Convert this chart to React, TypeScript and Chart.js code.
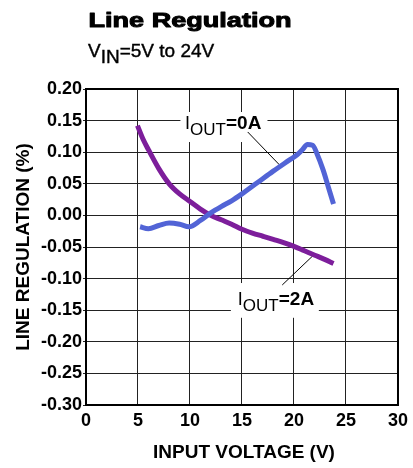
import React, { useEffect, useRef } from 'react';
import { Chart, registerables } from 'chart.js';

Chart.register(...registerables);

// ---- data ----
const iout0Voltage = [5.2, 6.0, 7.0, 8.0, 9.0, 9.9, 11.0, 12.0, 13.0, 14.0, 15.0, 16.5, 18.0, 19.5, 20.3, 20.8, 21.3, 21.8, 22.2, 22.8, 23.3, 23.8];
const iout0Regulation = [-0.018, -0.021, -0.016, -0.012, -0.014, -0.018, -0.008, 0.004, 0.014, 0.023, 0.034, 0.052, 0.070, 0.087, 0.096, 0.104, 0.112, 0.111, 0.098, 0.072, 0.045, 0.018];

const iout2Voltage = [4.95, 5.5, 6.0, 7.0, 8.0, 9.0, 10.0, 11.0, 12.0, 13.0, 14.0, 15.0, 16.0, 17.0, 18.0, 19.0, 20.0, 21.0, 22.0, 23.0, 23.8];
const iout2Regulation = [0.142, 0.120, 0.104, 0.074, 0.050, 0.034, 0.022, 0.010, 0.0, -0.007, -0.014, -0.022, -0.028, -0.033, -0.038, -0.043, -0.049, -0.056, -0.063, -0.070, -0.076];

const xTickMin = 0;
const xTickMax = 30;
const xTickStep = 5;
const yTickMin = -0.3;
const yTickMax = 0.2;
const yTickStep = 0.05;

const titleText = 'Line Regulation';
const subtitleParts = ['V', 'IN', '=5V to 24V'];
const xAxisTitle = 'INPUT VOLTAGE (V)';
const yAxisTitle = 'LINE REGULATION (%)';

// annotation labels, in data units
const seriesLabels = [
  { main: 'I', sub: 'OUT', tail: '=0A', at: [9.53, 0.1367], box: [9.08, 0.1636, 17.45, 0.1161], leader: [[15.55, 0.132], [18.6, 0.08]] },
  { main: 'I', sub: 'OUT', tail: '=2A', at: [14.6, -0.1418], box: [13.93, -0.107, 22.39, -0.162], leader: [[18.87, -0.1101], [21.89, -0.0627]] },
];

const FONT = '"Liberation Sans", Arial, Helvetica, sans-serif';
const BLUE = '#5264D6';
const PURPLE = '#7D1E9B';

const annotationPlugin = {
  id: 'annotations',
  beforeDatasetsDraw(chart: any) {
    const { ctx, chartArea, scales } = chart;
    const xs = scales.x;
    const ys = scales.y;
    ctx.save();
    for (const lab of seriesLabels) {
      const x1 = xs.getPixelForValue(lab.box[0]);
      const y1 = ys.getPixelForValue(lab.box[1]);
      const x2 = xs.getPixelForValue(lab.box[2]);
      const y2 = ys.getPixelForValue(lab.box[3]);
      ctx.fillStyle = '#fff';
      ctx.fillRect(x1, y1, x2 - x1, y2 - y1);
    }
    // frame
    ctx.strokeStyle = '#000';
    ctx.lineWidth = 2;
    ctx.strokeRect(chartArea.left, chartArea.top, chartArea.right - chartArea.left, chartArea.bottom - chartArea.top);

    for (const lab of seriesLabels) {
      // leader line
      ctx.strokeStyle = '#000';
      ctx.lineWidth = 1;
      ctx.beginPath();
      ctx.moveTo(xs.getPixelForValue(lab.leader[0][0]), ys.getPixelForValue(lab.leader[0][1]));
      ctx.lineTo(xs.getPixelForValue(lab.leader[1][0]), ys.getPixelForValue(lab.leader[1][1]));
      ctx.stroke();
      // text
      let x = xs.getPixelForValue(lab.at[0]);
      const y = ys.getPixelForValue(lab.at[1]);
      ctx.fillStyle = '#000';
      ctx.textBaseline = 'alphabetic';
      ctx.textAlign = 'left';
      ctx.font = `18px ${FONT}`;
      ctx.fillText(lab.main, x, y);
      x += ctx.measureText(lab.main).width;
      ctx.font = `17px ${FONT}`;
      ctx.fillText(lab.sub, x, y + 6);
      x += ctx.measureText(lab.sub).width;
      ctx.font = `bold 19px ${FONT}`;
      ctx.fillText(lab.tail, x, y);
    }
    ctx.restore();
  },
  afterDraw(chart: any) {
    const { ctx, chartArea } = chart;
    ctx.save();
    ctx.fillStyle = '#000';
    ctx.strokeStyle = '#000';
    ctx.textBaseline = 'alphabetic';
    // title (wide heavy face)
    ctx.textAlign = 'left';
    ctx.font = `bold 21px ${FONT}`;
    const tw = ctx.measureText(titleText).width;
    ctx.save();
    ctx.translate(88.5, 27.3);
    ctx.scale(203 / tw, 1);
    ctx.lineWidth = 1.0;
    ctx.lineJoin = 'round';
    ctx.fillText(titleText, 0, 0);
    ctx.strokeText(titleText, 0, 0);
    ctx.restore();
    // subtitle
    let sx = 88;
    ctx.font = `19px ${FONT}`;
    ctx.lineWidth = 0.4;
    ctx.fillText(subtitleParts[0], sx, 57.3);
    ctx.strokeText(subtitleParts[0], sx, 57.3);
    sx += ctx.measureText(subtitleParts[0]).width;
    ctx.fillText(subtitleParts[1], sx, 63.3);
    ctx.strokeText(subtitleParts[1], sx, 63.3);
    sx += ctx.measureText(subtitleParts[1]).width;
    ctx.fillText(subtitleParts[2], sx, 57.3);
    ctx.strokeText(subtitleParts[2], sx, 57.3);
    // x axis title
    ctx.font = `bold 19px ${FONT}`;
    ctx.textAlign = 'center';
    ctx.fillText(xAxisTitle, (chartArea.left + chartArea.right) / 2 + 2, 458);
    // y axis title
    ctx.save();
    ctx.translate(29.3, (chartArea.top + chartArea.bottom) / 2);
    ctx.rotate(-Math.PI / 2);
    ctx.fillText(yAxisTitle, 0, 0);
    ctx.restore();
    ctx.restore();
  },
};

function toPoints(xv: number[], yv: number[]) {
  return xv.map((x, i) => ({ x, y: yv[i] }));
}

export default function App() {
  const ref = useRef<HTMLCanvasElement | null>(null);
  useEffect(() => {
    if (!ref.current) return;
    const tickFont = { family: FONT, size: 18, weight: 'bold' as const };
    const chart = new Chart(ref.current, {
      type: 'line',
      data: {
        datasets: [
          {
            label: 'IOUT=0A',
            data: toPoints(iout0Voltage, iout0Regulation),
            borderColor: BLUE,
            borderWidth: 5,
            pointRadius: 0,
            cubicInterpolationMode: 'monotone',
            fill: false,
          },
          {
            label: 'IOUT=2A',
            data: toPoints(iout2Voltage, iout2Regulation),
            borderColor: PURPLE,
            borderWidth: 5,
            pointRadius: 0,
            cubicInterpolationMode: 'monotone',
            fill: false,
          },
        ],
      },
      options: {
        animation: false,
        responsive: false,
        maintainAspectRatio: false,
        layout: { padding: { top: 89, right: 11, left: 0, bottom: 0 } },
        plugins: {
          legend: { display: false },
          title: { display: false },
          tooltip: { enabled: false },
        },
        scales: {
          x: {
            type: 'linear',
            min: xTickMin,
            max: xTickMax,
            ticks: {
              stepSize: xTickStep,
              color: '#000',
              font: tickFont,
              padding: 5,
              maxRotation: 0,
              autoSkip: false,
            },
            grid: { color: '#222', lineWidth: 1, drawTicks: false },
            border: { color: '#000', width: 2 },
            afterFit: (scale: any) => {
              scale.height = 63;
            },
          },
          y: {
            type: 'linear',
            min: yTickMin,
            max: yTickMax,
            ticks: {
              stepSize: yTickStep,
              color: '#000',
              font: tickFont,
              padding: 1,
              autoSkip: false,
              callback: (v: any) => Number(v).toFixed(2),
            },
            grid: { color: '#222', lineWidth: 1, drawTicks: true, tickLength: 3 },
            border: { color: '#000', width: 2 },
            afterFit: (scale: any) => {
              scale.width = 86;
            },
          },
        },
      },
      plugins: [annotationPlugin],
    });
    return () => chart.destroy();
  }, []);
  return (
    <div style={{ position: 'fixed', left: 0, top: 0, width: 413, height: 468, background: '#fff' }}>
      <canvas ref={ref} width={413} height={468} style={{ width: 413, height: 468, display: 'block' }} />
    </div>
  );
}
